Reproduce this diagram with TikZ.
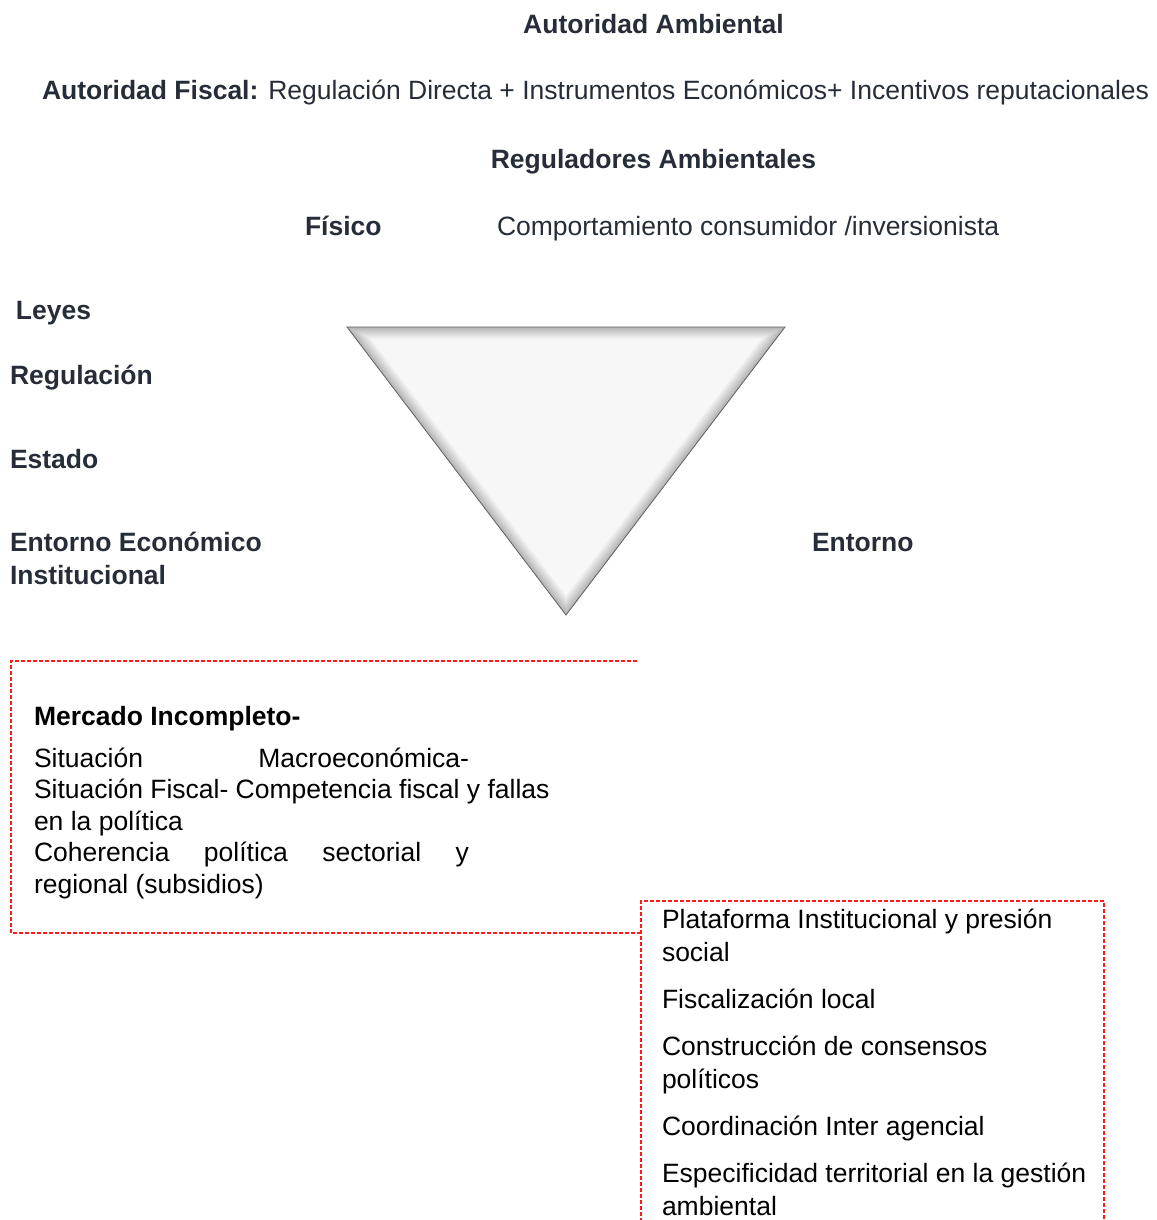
\documentclass[tikz,border=0pt]{standalone}
\usepackage{fontspec}
\setmainfont{Liberation Sans}
\definecolor{hdr}{HTML}{262D38}
\definecolor{dashred}{HTML}{FF1A1A}
\begin{document}
\begin{tikzpicture}[x=1pt,y=-1pt,
  every node/.style={inner sep=0pt,outer sep=0pt,anchor=base west,font=\fontsize{26.5}{33}\selectfont},
  hd/.style={text=hdr,font=\fontsize{26.5}{33}\selectfont\bfseries},
  hdn/.style={text=hdr},
  bx/.style={text=black},
  redbox/.style={draw=dashred,line width=1.3pt,dash pattern=on 4pt off 2pt}]
\useasboundingbox (0,0) rectangle (1156,1220);
% header texts
\node[hd,anchor=base] (aa) at (653.5,34) {Autoridad Ambiental};
\node[hdn] (af) at (42,100) {\textbf{Autoridad Fiscal:} Regulación Directa + Instrumentos Económicos+ Incentivos reputacionales};
\node[hd,anchor=base] (ra) at (653.5,168) {Reguladores Ambientales};
\node[hd] (fi) at (305,235) {Físico};
\node[hdn] (cc) at (497,235) {Comportamiento consumidor /inversionista};
\node[hd] (le) at (16,319) {Leyes};
\node[hd] (re) at (10,384) {Regulación};
\node[hd] (es) at (10,468) {Estado};
\node[hd] (ee) at (10,551) {Entorno Económico};
\node[hd] (in) at (10,584) {Institucional};
\node[hd] (en) at (812,551) {Entorno};
% triangle with bevel
\foreach \i in {0,...,14}{
  \pgfmathsetmacro\s{1-\i*0.0085}
  \pgfmathtruncatemacro\g{max(6,58-\i*4)}
  \begin{scope}[shift={(566,435.6)},scale=\s]
    \fill[gray!\g] (-219,-108.6) -- (219,-108.6) -- (0,179.4) -- cycle;
  \end{scope}
}
\draw[gray!75!black,line width=0.8pt] (347,327) coordinate (ta) -- (785,327) coordinate (tb) -- (566,615) coordinate (tc) -- cycle;
% red dashed boxes
\coordinate (b1tl) at (11,661);
\coordinate (b1tr) at (637,661);
\coordinate (b1bl) at (11,933);
\coordinate (b2j) at (641,933);
\coordinate (b2tl) at (641,901);
\coordinate (b2tr) at (1104,901);
\coordinate (b2bl) at (641,1222);
\coordinate (b2br) at (1104,1222);
\draw[redbox] (b1tr) -- (b1tl) -- (b1bl) -- (b2j);
\draw[redbox] (b2bl) -- (b2tl) -- (b2tr) -- (b2br);
% box 1 text
\node[bx,font=\fontsize{26.5}{33}\selectfont\bfseries] (mi) at (34,725) {Mercado Incompleto-};
\node[bx] (m1) at (34,767) {\makebox[435pt][s]{Situación Macroeconómica-}};
\node[bx] (m2) at (34,798.5) {Situación Fiscal- Competencia fiscal y fallas};
\node[bx] (m3) at (34,830) {en la política};
\node[bx] (m4) at (34,861.5) {\makebox[435pt][s]{Coherencia política sectorial y}};
\node[bx] (m5) at (34,893) {regional (subsidios)};
% box 2 text
\node[bx] (p1) at (662,928) {Plataforma Institucional y presión};
\node[bx] (p2) at (662,961) {social};
\node[bx] (p3) at (662,1008) {Fiscalización local};
\node[bx] (p4) at (662,1055) {Construcción de consensos};
\node[bx] (p5) at (662,1088) {políticos};
\node[bx] (p6) at (662,1135) {Coordinación Inter agencial};
\node[bx] (p7) at (662,1182) {Especificidad territorial en la gestión};
\node[bx] (p8) at (662,1215) {ambiental};
\end{tikzpicture}
\end{document}
